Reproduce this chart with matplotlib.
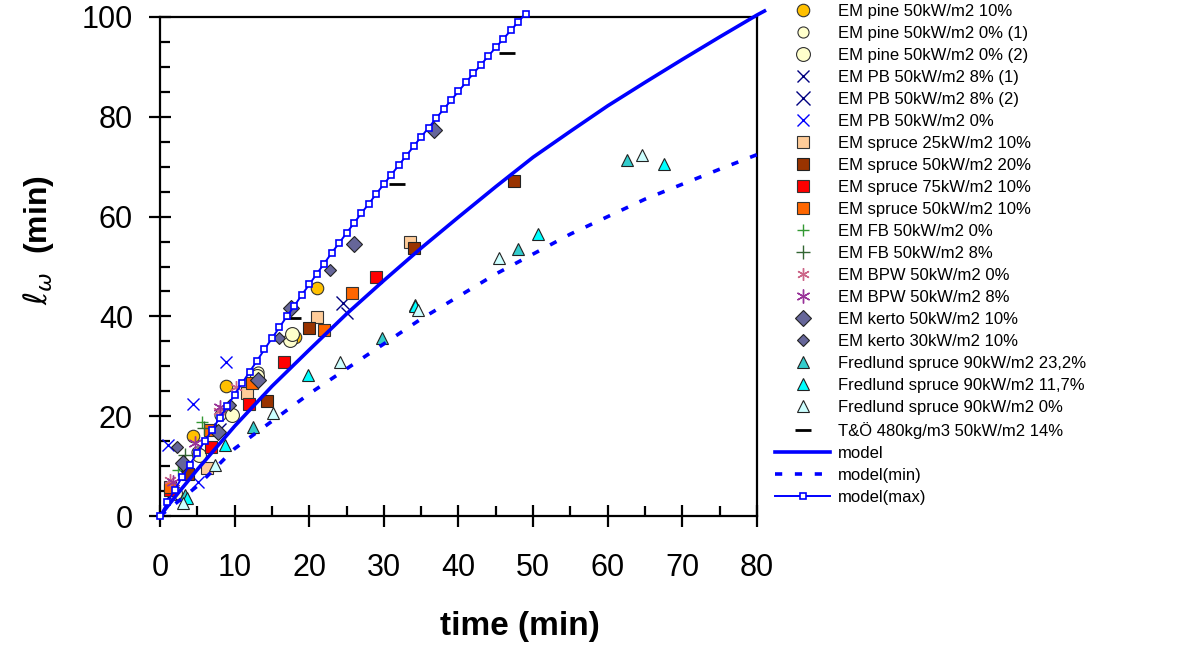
import matplotlib
matplotlib.use("Agg")
import matplotlib.pyplot as plt
from matplotlib.ticker import MultipleLocator

plt.rcParams['font.family'] = ['Liberation Sans', 'DejaVu Sans']

# ---------------- data ----------------
pine10_t = [4.4, 8.8, 18.1, 21.0]
pine10_y = [16.0, 26.1, 35.9, 45.7]
pine0a_t = [1.7, 5.0, 8.0, 9.4, 13.1]
pine0a_y = [5.2, 12.8, 20.2, 20.6, 28.9]
pine0b_t = [2.0, 5.2, 9.6, 13.0, 17.4, 17.7]
pine0b_y = [4.6, 12.3, 20.2, 28.0, 35.3, 36.4]
pb8a_t = [3.2, 8.0, 25.0]
pb8a_y = [8.5, 17.5, 40.7]
pb8b_t = [1.5, 24.5]
pb8b_y = [4.5, 42.7]
pb0_t = [1.1, 4.4, 5.1, 8.9]
pb0_y = [14.2, 22.5, 6.8, 30.9]
spr25_t = [6.3, 11.7, 21.0, 33.5]
spr25_y = [9.6, 24.6, 39.9, 55.0]
spr50_20_t = [3.8, 14.3, 20.0, 34.0, 47.5]
spr50_20_y = [8.4, 23.0, 37.7, 53.7, 67.2]
spr75_t = [1.3, 6.8, 11.9, 16.6, 28.9]
spr75_y = [5.2, 13.9, 22.4, 30.9, 47.9]
spr50_10_t = [1.3, 6.7, 12.3, 22.0, 25.7]
spr50_10_y = [5.8, 17.2, 26.7, 37.3, 44.7]
fb0_t = [2.4, 5.6]
fb0_y = [9.2, 18.8]
fb8_t = [3.4, 5.9]
fb8_y = [12.2, 17.6]
bpw0_t = [1.3, 7.9, 10.2]
bpw0_y = [7.2, 21.0, 25.9]
bpw8_t = [1.7, 4.7, 8.0]
bpw8_y = [6.8, 14.6, 21.8]
kerto50_t = [3.1, 7.8, 13.1, 17.5, 26.0, 36.7]
kerto50_y = [10.6, 16.8, 27.3, 41.7, 54.5, 77.4]
kerto30_t = [2.3, 9.4, 15.9, 22.8]
kerto30_y = [13.9, 22.3, 35.7, 49.3]
fr232_t = [3.3, 12.5, 29.7, 34.2, 48.0, 62.6]
fr232_y = [4.2, 17.8, 35.7, 42.3, 53.5, 71.3]
fr117_t = [3.6, 8.7, 19.8, 34.2, 50.6, 67.5]
fr117_y = [3.6, 14.2, 28.3, 42.0, 56.5, 70.5]
fr0_t = [3.1, 7.4, 15.1, 24.1, 34.6, 45.4, 64.6]
fr0_y = [2.6, 10.2, 20.6, 30.9, 41.3, 51.7, 72.3]
to_t = [17.8, 31.7, 46.5]
to_y = [39.7, 66.5, 92.8]

model_t = [0, 2, 5, 10, 15, 20, 25, 30, 35, 40, 45, 50, 55, 60, 65, 70, 75, 80, 81]
model_y = [0, 3.8, 9.3, 18.0, 26.0, 33.3, 40.5, 47.2, 53.7, 59.9, 66.0, 71.9, 77.1, 82.2,
           86.9, 91.5, 96.0, 100.4, 101.2]
mmin_t = [0, 5, 10, 15, 20, 25, 30, 35, 40, 45, 50, 55, 60, 65, 70, 75, 81]
mmin_y = [0, 6, 13.5, 19, 24.5, 29.5, 34.5, 39.5, 44, 48.5, 52.5, 56.5, 60, 63.5, 66.5, 69.5, 73]
mmax_t = list(range(0, 50))
mmax_y = [0, 2.8, 5.3, 7.9, 10.3, 12.7, 15.0, 17.3, 19.7, 22.0, 24.3, 26.6, 28.9, 31.1,
          33.4, 35.6, 37.8, 40.0, 42.1, 44.3, 46.4, 48.5, 50.6, 52.7, 54.7, 56.7, 58.7,
          60.7, 62.6, 64.6, 66.5, 68.4, 70.3, 72.2, 74.1, 76.0, 77.8, 79.7, 81.5, 83.3,
          85.1, 86.9, 88.7, 90.4, 92.2, 93.9, 95.6, 97.3, 99.0, 100.7]

# ---------------- figure ----------------
fig = plt.figure(figsize=(11.8, 6.5), dpi=100)
ax = fig.add_axes([160/1180, 134/650, 597/1180, 499/650])

def pts(t, y, label, **kw):
    ax.plot(t, y, linestyle='none', label=label, clip_on=False, **kw)

pts(pine10_t, pine10_y, 'EM pine 50kW/m2 10%', marker='o', ms=9, mfc='#FFC000', mec='#333333', mew=0.8)
pts(pine0a_t, pine0a_y, 'EM pine 50kW/m2 0% (1)', marker='o', ms=8, mfc='#FFFFCC', mec='#333333', mew=0.8)
pts(pine0b_t, pine0b_y, 'EM pine 50kW/m2 0% (2)', marker='o', ms=10, mfc='#FFFFCC', mec='#333333', mew=0.8)
pts(pb8a_t, pb8a_y, 'EM PB 50kW/m2 8% (1)', marker='x', ms=8, mec='#000080', mew=1.0)
pts(pb8b_t, pb8b_y, 'EM PB 50kW/m2 8% (2)', marker='x', ms=10, mec='#000080', mew=1.0)
pts(pb0_t, pb0_y, 'EM PB 50kW/m2 0%', marker='x', ms=8, mec='#0000FF', mew=1.0)
pts(spr25_t, spr25_y, 'EM spruce 25kW/m2 10%', marker='s', ms=8, mfc='#FFCC99', mec='#333333', mew=0.8)
pts(spr50_20_t, spr50_20_y, 'EM spruce 50kW/m2 20%', marker='s', ms=8, mfc='#993300', mec='#222222', mew=0.8)
pts(spr75_t, spr75_y, 'EM spruce 75kW/m2 10%', marker='s', ms=8, mfc='#FF0000', mec='#333333', mew=0.8)
pts(spr50_10_t, spr50_10_y, 'EM spruce 50kW/m2 10%', marker='s', ms=8, mfc='#FF6600', mec='#333333', mew=0.8)
pts(fb0_t, fb0_y, 'EM FB 50kW/m2 0%', marker='+', ms=9, mec='#339933', mew=1.0)
pts(fb8_t, fb8_y, 'EM FB 50kW/m2 8%', marker='+', ms=10, mec='#336633', mew=1.0)
pts(bpw0_t, bpw0_y, 'EM BPW 50kW/m2 0%', marker=(6, 2, 0), ms=9, mec='#CC6688', mew=1.0)
pts(bpw8_t, bpw8_y, 'EM BPW 50kW/m2 8%', marker=(6, 2, 0), ms=10, mec='#993399', mew=1.0)
pts(kerto50_t, kerto50_y, 'EM kerto 50kW/m2 10%', marker='D', ms=8, mfc='#666699', mec='#222222', mew=0.8)
pts(kerto30_t, kerto30_y, 'EM kerto 30kW/m2 10%', marker='D', ms=6.5, mfc='#666699', mec='#222222', mew=0.8)
pts(fr232_t, fr232_y, 'Fredlund spruce 90kW/m2 23,2%', marker='^', ms=9, mfc='#33CCCC', mec='#222222', mew=0.8)
pts(fr117_t, fr117_y, 'Fredlund spruce 90kW/m2 11,7%', marker='^', ms=9, mfc='#00FFFF', mec='#222222', mew=0.8)
pts(fr0_t, fr0_y, 'Fredlund spruce 90kW/m2 0%', marker='^', ms=9, mfc='#CCFFFF', mec='#222222', mew=0.8)
pts(to_t, to_y, 'T&Ö 480kg/m3 50kW/m2 14%', marker='_', ms=11, mec='black', mew=2.0)

ax.plot(model_t, model_y, color='#0000FF', lw=2.6, label='model', clip_on=False, zorder=3)
ax.plot(mmin_t, mmin_y, color='#0000FF', lw=2.6, linestyle=(0, (2, 3.5)), label='model(min)', clip_on=False, zorder=3)
ax.plot(mmax_t, mmax_y, color='#0000FF', lw=1.4, marker='s', ms=4.5, mfc='white', mec='#0000FF',
        mew=1.2, label='model(max)', clip_on=False, zorder=3)

ax.set_xlim(0, 80)
ax.set_ylim(0, 100)
ax.xaxis.set_major_locator(MultipleLocator(10))
ax.xaxis.set_minor_locator(MultipleLocator(5))
ax.yaxis.set_major_locator(MultipleLocator(20))
ax.yaxis.set_minor_locator(MultipleLocator(5))
ax.tick_params(which='major', direction='inout', length=16, width=1.6, labelsize=22, pad=11.5)
ax.tick_params(which='minor', direction='in', length=7.5, width=1.6)
ax.tick_params(axis='x', which='major', pad=19)
for s in ax.spines.values():
    s.set_linewidth(1.6)

ax.set_xlabel('time (min)', fontsize=24, fontweight='bold')
ax.xaxis.set_label_coords((520 - 160) / 597, (516 - 627) / 499)
ax.xaxis.label.set_va('center')
ax.set_ylabel(r'$\ell_{\omega}$  (min)', fontsize=23, fontweight='bold')
ax.yaxis.set_label_coords((38 - 160) / 597, (516 - 240) / 499)
ax.yaxis.label.set_va('center')

ax.legend(loc='upper left', bbox_to_anchor=(775 / 1180, 1.0 - 4 / 650), bbox_transform=fig.transFigure,
          frameon=False, fontsize=12, handlelength=3.3, handletextpad=0.45,
          labelspacing=0.42, borderaxespad=0, borderpad=0.0)

fig.savefig('out.png', dpi=100)
